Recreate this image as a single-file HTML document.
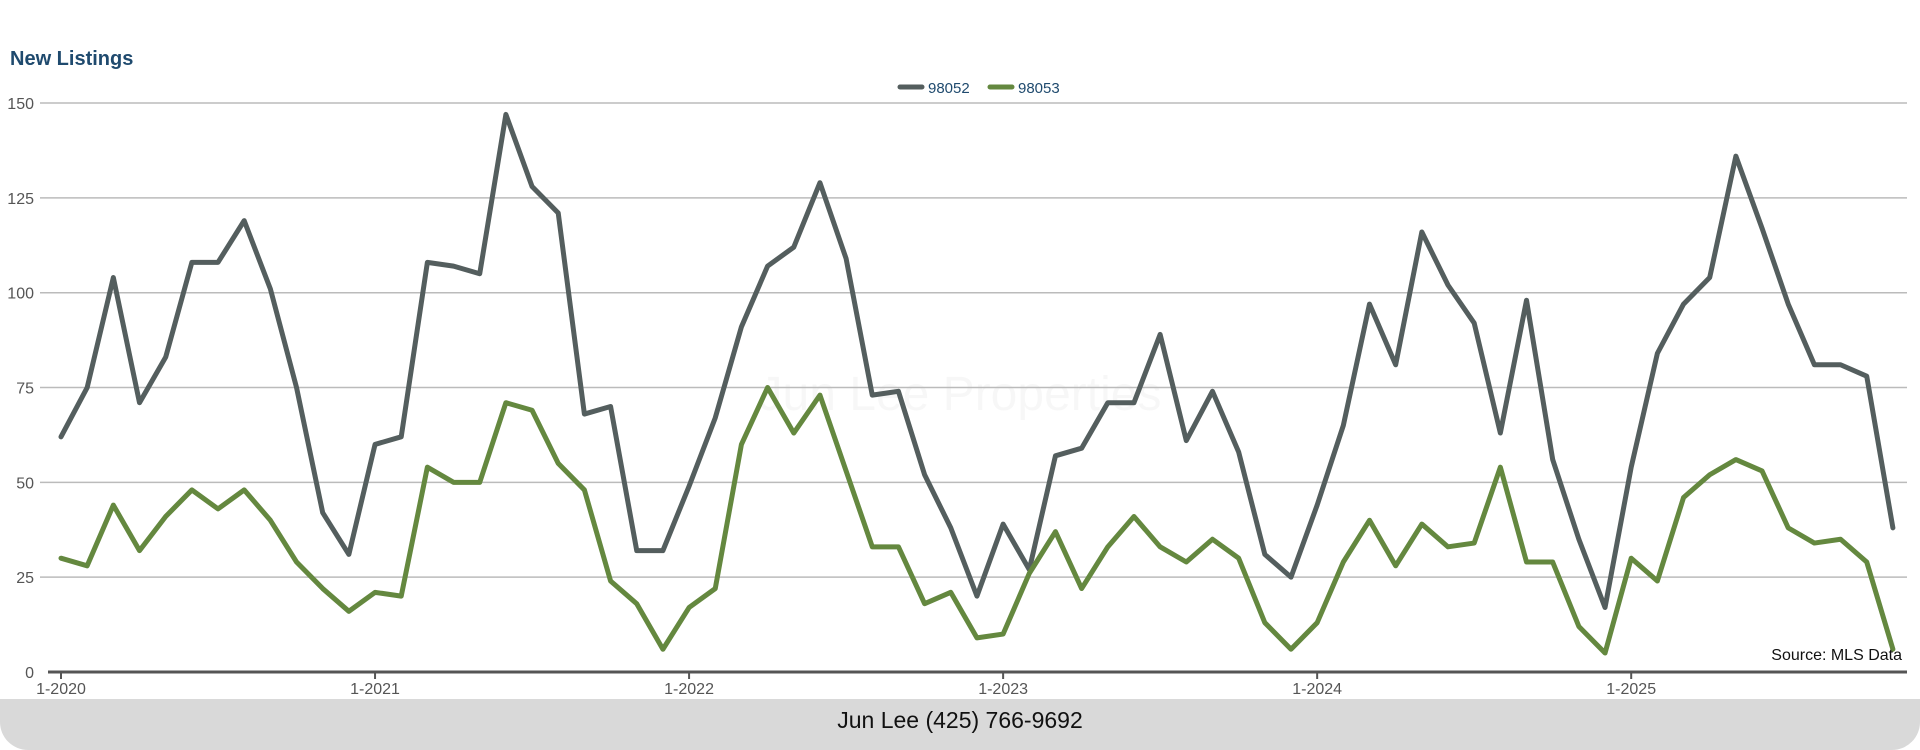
<!DOCTYPE html>
<html><head><meta charset="utf-8"><style>
body{margin:0;width:1920px;height:750px;background:#fff;overflow:hidden;font-family:"Liberation Sans",sans-serif;position:relative}
#title{position:absolute;left:10px;top:48px;font-size:20px;font-weight:bold;color:#1f4a6e}
#footer{position:absolute;left:0;top:699px;width:1920px;height:51px;background:#d9d9d9;border-radius:0 0 28px 28px;text-align:center;font-size:23px;line-height:42px;color:#111}
</style></head><body>
<div id="title">New Listings</div>
<svg id="chart" width="1920" height="700" style="position:absolute;left:0;top:0"></svg>
<div id="footer">Jun Lee (425) 766-9692</div>
<script>
const yTicks=[0,25,50,75,100,125,150];
const xTickLabels=["1-2020","1-2021","1-2022","1-2023","1-2024","1-2025"];
const s98052=[62,75,104,71,83,108,108,119,101,75,42,31,60,62,108,107,105,147,128,121,68,70,32,32,49,67,91,107,112,129,109,73,74,52,38,20,39,27,57,59,71,71,89,61,74,58,31,25,44,65,97,81,116,102,92,63,98,56,35,17,54,84,97,104,136,117,97,81,81,78,38];
const s98053=[30,28,44,32,41,48,43,48,40,29,22,16,21,20,54,50,50,71,69,55,48,24,18,6,17,22,60,75,63,73,53,33,33,18,21,9,10,26,37,22,33,41,33,29,35,30,13,6,13,29,40,28,39,33,34,54,29,29,12,5,30,24,46,52,56,53,38,34,35,29,6];
const seriesNames=["98052","98053"];
const NS="http://www.w3.org/2000/svg",svg=document.getElementById('chart');
const x=i=>61+i*26.17, y=v=>672-v*3.793;
function mk(t,a,p){const e=document.createElementNS(NS,t);for(const k in a)e.setAttribute(k,a[k]);(p||svg).appendChild(e);return e;}
const wm=mk('text',{x:960,y:410,'text-anchor':'middle','font-size':48,fill:'#000','fill-opacity':0.03});wm.textContent='Jun Lee Properties';


yTicks.forEach(v=>{
 if(v>0){const l=mk('line',{x1:40,x2:1907,y1:y(v),y2:y(v),stroke:'#bbb','stroke-width':1.5});
 
 }
 const t=mk('text',{x:34,y:y(v)+6,'text-anchor':'end','font-size':16,fill:'#555'});t.textContent=v;
 
 
});
const ax=mk('line',{x1:48,x2:1907,y1:672,y2:672,stroke:'#555','stroke-width':3});


xTickLabels.forEach((s,k)=>{const xx=x(k*12);
 const tk=mk('line',{x1:xx,x2:xx,y1:672,y2:679,stroke:'#555','stroke-width':2});
 
 
 const t=mk('text',{x:xx,y:694,'text-anchor':'middle','font-size':16,fill:'#555'});t.textContent=s;
 
 
});
const cols=['#545e5e','#64883f'];
[s98052,s98053].forEach((d,si)=>{
 const p=mk('polyline',{points:d.map((v,i)=>x(i)+','+y(v)).join(' '),fill:'none',stroke:cols[si],'stroke-width':5,'stroke-linejoin':'round','stroke-linecap':'round'});
 
 
 const lx=[900,990][si];
 const g=mk('g',{});
 
 
 mk('line',{x1:lx,x2:lx+22,y1:87,y2:87,stroke:cols[si],'stroke-width':5,'stroke-linecap':'round'},g);
 const t=mk('text',{x:lx+28,y:93,'font-size':15,fill:'#1f4a6e'},g);t.textContent=seriesNames[si];
});
const src=mk('text',{x:1902,y:660,'text-anchor':'end','font-size':16,fill:'#111'});src.textContent='Source: MLS Data';


</script>
</body></html>
